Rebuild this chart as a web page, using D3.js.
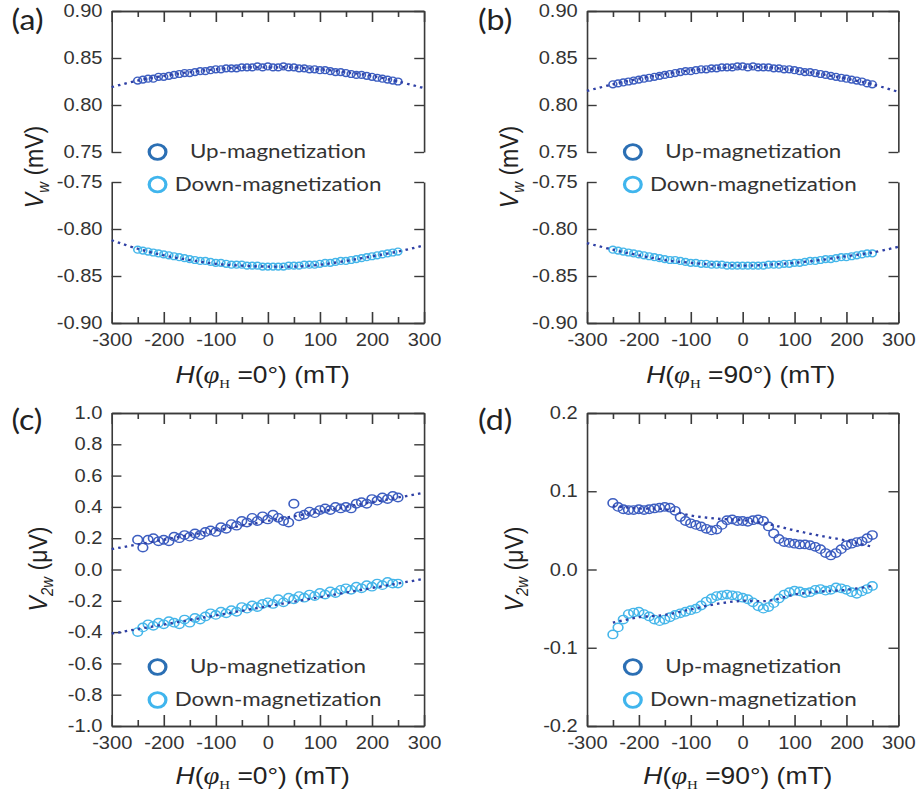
<!DOCTYPE html>
<html>
<head>
<meta charset="utf-8">
<script src="https://cdn.jsdelivr.net/npm/d3@7"></script>
<style>
  body { margin: 0; background: #fff; }
  svg { display: block; }
  .tick text { font-family: "Liberation Sans", Arial, sans-serif; font-size: 17.5px; fill: #333; }
  .tick line, .domain { stroke: #3a3a3a; stroke-width: 1.4; }
  .legend text { font-family: Lato, "Open Sans", sans-serif; font-size: 19.5px; fill: #333; }
  .title { font-family: "Liberation Sans", Arial, sans-serif; fill: #222; }
  .plabel { font-family: Lato, sans-serif; font-size: 28px; fill: #222; }
</style>
</head>
<body>
<svg id="chart"></svg>
<script>
// measured field values (mT)
const fieldH = [-250, -240, -230, -220, -210, -200, -190, -180, -170, -160, -150, -140, -130, -120, -110, -100,
  -90, -80, -70, -60, -50, -40, -30, -20, -10, 0, 10, 20, 30, 40, 50, 60, 70, 80, 90, 100,
  110, 120, 130, 140, 150, 160, 170, 180, 190, 200, 210, 220, 230, 240, 250];
const fitH = [-300, -250, -200, -150, -100, -50, 0, 50, 100, 150, 200, 250, 300];
const fitHLin = [-300, 300];
const fitHSmooth = [-250, -200, -150, -100, -50, 0, 50, 100, 150, 200, 250];

const xMajor = [-300, -200, -100, 0, 100, 200, 300];
const xMinor = [-250, -150, -50, 50, 150, 250];
const yTicksUpper = [0.75, 0.80, 0.85, 0.90];
const yTicksLower = [-0.90, -0.85, -0.80, -0.75];
const yTicksC = [-1.0, -0.8, -0.6, -0.4, -0.2, 0.0, 0.2, 0.4, 0.6, 0.8, 1.0];
const yTicksD = [-0.2, -0.1, 0.0, 0.1, 0.2];

// (a) V_w, phi_H = 0
const aUp = [0.826, 0.827, 0.828, 0.828, 0.830, 0.830, 0.831, 0.832, 0.833, 0.834, 0.834, 0.835, 0.836, 0.836, 0.837, 0.838,
  0.838, 0.839, 0.839, 0.839, 0.840, 0.840, 0.840, 0.841, 0.840, 0.841, 0.840, 0.840, 0.841, 0.840, 0.840, 0.839, 0.839, 0.838, 0.838, 0.837,
  0.837, 0.836, 0.835, 0.835, 0.834, 0.833, 0.832, 0.832, 0.831, 0.830, 0.829, 0.828, 0.827, 0.826, 0.825];
const aDown = [-0.822, -0.823, -0.824, -0.825, -0.826, -0.827, -0.828, -0.829, -0.830, -0.831, -0.832, -0.833, -0.834, -0.834, -0.835, -0.836,
  -0.836, -0.837, -0.838, -0.838, -0.838, -0.839, -0.839, -0.839, -0.840, -0.840, -0.840, -0.840, -0.840, -0.839, -0.839, -0.839, -0.838, -0.838, -0.838, -0.837,
  -0.836, -0.836, -0.835, -0.834, -0.834, -0.833, -0.832, -0.831, -0.830, -0.829, -0.828, -0.827, -0.826, -0.825, -0.824];
const aUpFit = [0.819, 0.826, 0.831, 0.835, 0.838, 0.840, 0.840, 0.840, 0.838, 0.835, 0.831, 0.825, 0.818];
const aDownFit = [-0.812, -0.821, -0.828, -0.833, -0.837, -0.839, -0.840, -0.840, -0.838, -0.834, -0.829, -0.824, -0.8175];

// (b) V_w, phi_H = 90
const bUp = [0.822, 0.823, 0.824, 0.825, 0.826, 0.827, 0.828, 0.829, 0.830, 0.831, 0.832, 0.833, 0.834, 0.835, 0.836, 0.836,
  0.837, 0.838, 0.838, 0.839, 0.839, 0.840, 0.840, 0.840, 0.841, 0.841, 0.840, 0.841, 0.840, 0.840, 0.840, 0.839, 0.839, 0.838, 0.838, 0.837,
  0.836, 0.835, 0.835, 0.834, 0.833, 0.832, 0.831, 0.830, 0.829, 0.828, 0.827, 0.826, 0.825, 0.823, 0.822];
const bDown = [-0.822, -0.823, -0.824, -0.825, -0.826, -0.827, -0.828, -0.829, -0.830, -0.831, -0.832, -0.833, -0.833, -0.834, -0.835, -0.836,
  -0.836, -0.837, -0.837, -0.838, -0.838, -0.838, -0.839, -0.839, -0.839, -0.839, -0.839, -0.839, -0.839, -0.839, -0.838, -0.838, -0.838, -0.837, -0.837, -0.836,
  -0.836, -0.835, -0.834, -0.834, -0.833, -0.832, -0.832, -0.831, -0.830, -0.830, -0.829, -0.828, -0.827, -0.826, -0.826];
const bUpFit = [0.815, 0.822, 0.828, 0.833, 0.837, 0.839, 0.840, 0.840, 0.837, 0.833, 0.828, 0.822, 0.814];
const bDownFit = [-0.815, -0.822, -0.828, -0.833, -0.836, -0.838, -0.839, -0.838, -0.836, -0.833, -0.829, -0.825, -0.819];

// (c) V_2w, phi_H = 0
const cUp = [0.19, 0.14, 0.19, 0.20, 0.18, 0.19, 0.18, 0.21, 0.20, 0.22, 0.21, 0.23, 0.22, 0.24, 0.25, 0.24,
  0.27, 0.26, 0.29, 0.28, 0.31, 0.30, 0.33, 0.31, 0.34, 0.32, 0.35, 0.33, 0.31, 0.30, 0.42, 0.34, 0.35, 0.37, 0.36, 0.38,
  0.39, 0.38, 0.40, 0.39, 0.40, 0.39, 0.42, 0.43, 0.42, 0.45, 0.44, 0.46, 0.45, 0.47, 0.46];
const cDown = [-0.40, -0.37, -0.35, -0.36, -0.34, -0.35, -0.33, -0.34, -0.35, -0.32, -0.34, -0.31, -0.32, -0.30, -0.28, -0.29,
  -0.27, -0.28, -0.26, -0.27, -0.24, -0.25, -0.23, -0.24, -0.22, -0.21, -0.22, -0.19, -0.21, -0.18, -0.19, -0.17, -0.18, -0.16, -0.17, -0.15,
  -0.16, -0.14, -0.15, -0.13, -0.12, -0.13, -0.11, -0.12, -0.10, -0.11, -0.09, -0.10, -0.08, -0.09, -0.09];
const cUpFit = [0.13, 0.49];
const cDownFit = [-0.41, -0.06];

// (d) V_2w, phi_H = 90
const dUp = [0.085, 0.080, 0.077, 0.076, 0.076, 0.077, 0.076, 0.077, 0.078, 0.079, 0.080, 0.079, 0.075, 0.067, 0.062, 0.059,
  0.057, 0.055, 0.052, 0.050, 0.051, 0.057, 0.063, 0.064, 0.062, 0.062, 0.061, 0.063, 0.064, 0.062, 0.055, 0.046, 0.039, 0.035, 0.034, 0.033,
  0.032, 0.032, 0.031, 0.029, 0.026, 0.021, 0.018, 0.021, 0.026, 0.031, 0.033, 0.035, 0.036, 0.040, 0.044];
const dDown = [-0.083, -0.074, -0.064, -0.057, -0.055, -0.054, -0.057, -0.060, -0.064, -0.066, -0.064, -0.061, -0.058, -0.056, -0.054, -0.052,
  -0.050, -0.046, -0.041, -0.037, -0.034, -0.033, -0.032, -0.033, -0.034, -0.036, -0.038, -0.042, -0.047, -0.050, -0.048, -0.043, -0.037, -0.032, -0.029, -0.027,
  -0.028, -0.030, -0.029, -0.026, -0.025, -0.027, -0.026, -0.023, -0.024, -0.026, -0.029, -0.031, -0.028, -0.025, -0.021];
const dUpFit = [0.081, 0.078, 0.077, 0.069, 0.065, 0.063, 0.058, 0.050, 0.043, 0.037, 0.029];
const dDownFit = [-0.068, -0.061, -0.058, -0.051, -0.044, -0.040, -0.040, -0.032, -0.028, -0.026, -0.021];

const upColor = '#3d5ec0';
const downColor = '#45b6ea';
const fitColor = '#2f40a5';
const legendUp = '#2b6fb4';
const legendDown = '#40b5ed';

// the figure is a little stretched sideways, so draw in a narrower box
const svg = d3.select('#chart')
  .attr('width', 918)
  .attr('height', 796)
  .attr('viewBox', '0 0 800 796')
  .attr('preserveAspectRatio', 'none');

const xAxes = (g, x, top, bottom) => {
  g.append('g').attr('transform', `translate(0,${bottom})`)
    .call(d3.axisBottom(x).tickValues(xMajor).tickSizeInner(-11).tickSizeOuter(0)
      .tickPadding(10.5).tickFormat(d => String(d)));
  g.append('g').attr('transform', `translate(0,${bottom})`)
    .call(d3.axisBottom(x).tickValues(xMinor).tickSizeInner(-6).tickSizeOuter(0).tickFormat(''));
  g.append('g').attr('transform', `translate(0,${top})`)
    .call(d3.axisTop(x).tickValues(xMajor).tickSizeInner(-11).tickSizeOuter(0).tickFormat(''));
  g.append('g').attr('transform', `translate(0,${top})`)
    .call(d3.axisTop(x).tickValues(xMinor).tickSizeInner(-6).tickSizeOuter(0).tickFormat(''));
};

const yAxes = (g, y, ticks, fmt, left, right) => {
  g.append('g').attr('transform', `translate(${left},0)`)
    .call(d3.axisLeft(y).tickValues(ticks).tickSizeInner(-8.5).tickSizeOuter(0)
      .tickPadding(8).tickFormat(fmt));
  g.append('g').attr('transform', `translate(${right},0)`)
    .call(d3.axisRight(y).tickValues(ticks).tickSizeInner(-8.5).tickSizeOuter(0).tickFormat(''));
};

const markers = (g, x, y, values, color, r) => {
  g.append('g').selectAll('circle')
    .data(d3.zip(fieldH, values))
    .enter()
    .append('circle')
    .attr('cx', d => x(d[0]))
    .attr('cy', d => y(d[1]))
    .attr('r', r)
    .attr('fill', 'none')
    .attr('stroke', color)
    .attr('stroke-width', 1.4);
};

const fitLine = (g, x, y, xs, values) => {
  const line = d3.line()
    .x(d => x(d[0]))
    .y(d => y(d[1]))
    .curve(xs.length > 2 ? d3.curveCatmullRom : d3.curveLinear);
  g.append('path')
    .datum(d3.zip(xs, values))
    .attr('d', line)
    .attr('fill', 'none')
    .attr('stroke', fitColor)
    .attr('stroke-width', 2.3)
    .attr('stroke-dasharray', '2.2 3.6');
};

const legend = (g, left, yUp, yDown) => {
  const lg = g.append('g').attr('class', 'legend');
  [[yUp, legendUp, 'Up-magnetization'], [yDown, legendDown, 'Down-magnetization']].forEach(([ly, c, t]) => {
    lg.append('circle')
      .attr('cx', left + 40).attr('cy', ly).attr('r', 7.3)
      .attr('fill', 'none').attr('stroke', c).attr('stroke-width', 2.8);
    lg.append('text')
      .attr('x', left + 145).attr('y', ly + 6.5)
      .attr('text-anchor', 'middle')
      .text(t);
  });
};

const xTitle = (g, cx, y, angle) => {
  const t = g.append('text').attr('class', 'title')
    .attr('x', cx).attr('y', y)
    .attr('text-anchor', 'middle')
    .style('font-size', '23px');
  t.append('tspan').attr('font-style', 'italic').text('H');
  t.append('tspan').text('(');
  t.append('tspan').attr('font-style', 'italic').attr('font-family', '"Liberation Serif", serif').style('font-size', '25px').text('φ');
  t.append('tspan').attr('font-family', '"Liberation Serif", serif').style('font-size', '13px')
    .attr('dy', 5).text('H');
  t.append('tspan').attr('dy', -5).text(` =${angle}°) (mT)`);
};

const yTitle = (g, cx, cy, sub, unit) => {
  const t = g.append('text').attr('class', 'title')
    .attr('transform', `translate(${cx},${cy}) rotate(-90)`)
    .attr('text-anchor', 'middle')
    .attr('dy', '0.35em')
    .style('font-size', '23px');
  t.append('tspan').attr('font-style', 'italic').text('V');
  t.append('tspan').attr('font-style', 'italic').style('font-size', '15px').attr('dy', 5).text(sub);
  t.append('tspan').attr('dy', -5).text(`  (${unit})`);
};

const panelLabel = (g, cx, cy, t) => {
  g.append('text').attr('class', 'plabel')
    .attr('x', cx).attr('y', cy).attr('dy', '0.35em')
    .attr('text-anchor', 'middle')
    .text(t);
};

// top row: broken V_w axis
const topPanels = [
  { label: '(a)', left: 97.3, right: 369.5, angle: '0', up: aUp, down: aDown, upFit: aUpFit, downFit: aDownFit, lx: 24, tx: 229 },
  { label: '(b)', left: 511.5, right: 782.8, angle: '90', up: bUp, down: bDown, upFit: bUpFit, downFit: bDownFit, lx: 431.5, tx: 645.5 }
];

topPanels.forEach(p => {
  const g = svg.append('g');
  const x = d3.scaleLinear().domain([-300, 300]).range([p.left, p.right]);
  const yU = d3.scaleLinear().domain([0.75, 0.90]).range([152, 11]);
  const yL = d3.scaleLinear().domain([-0.90, -0.75]).range([323, 182]);
  xAxes(g, x, yU(0.90), yL(-0.90));
  yAxes(g, yU, yTicksUpper, d => d.toFixed(2), p.left, p.right);
  yAxes(g, yL, yTicksLower, d => d.toFixed(2), p.left, p.right);
  markers(g, x, yU, p.up, upColor, 3.4);
  markers(g, x, yL, p.down, downColor, 3.4);
  fitLine(g, x, yU, fitH, p.upFit);
  fitLine(g, x, yL, fitH, p.downFit);
  legend(g, p.left, yU(0.75), 184.5);
  xTitle(g, p.tx, 383, p.angle);
  yTitle(g, p.left - 68, 167, 'w', 'mV');
  panelLabel(g, p.lx, 20, p.label);
});

// bottom row: V_2w
const bottomPanels = [
  { label: '(c)', left: 97.3, right: 369.5, angle: '0', domain: [-1.0, 1.0], ticks: yTicksC, fmt: d => d.toFixed(1),
    up: cUp, down: cDown, upFit: cUpFit, downFit: cDownFit, fitX: fitHLin, lx: 23.5, tx: 229 },
  { label: '(d)', left: 511.5, right: 782.8, angle: '90', domain: [-0.2, 0.2], ticks: yTicksD, fmt: d => d.toFixed(1),
    up: dUp, down: dDown, upFit: dUpFit, downFit: dDownFit, fitX: fitHSmooth, lx: 431.5, tx: 643 }
];

bottomPanels.forEach(p => {
  const g = svg.append('g');
  const x = d3.scaleLinear().domain([-300, 300]).range([p.left, p.right]);
  const y = d3.scaleLinear().domain(p.domain).range([726, 413]);
  xAxes(g, x, 413, 726);
  yAxes(g, y, p.ticks, p.fmt, p.left, p.right);
  markers(g, x, y, p.up, upColor, 4.2);
  markers(g, x, y, p.down, downColor, 4.2);
  fitLine(g, x, y, p.fitX, p.upFit);
  fitLine(g, x, y, p.fitX, p.downFit);
  legend(g, p.left, 667, 700);
  xTitle(g, p.tx, 784, p.angle);
  yTitle(g, p.left - 64, 569, '2w', 'μV');
  panelLabel(g, p.lx, 420, p.label);
});
</script>
</body>
</html>
